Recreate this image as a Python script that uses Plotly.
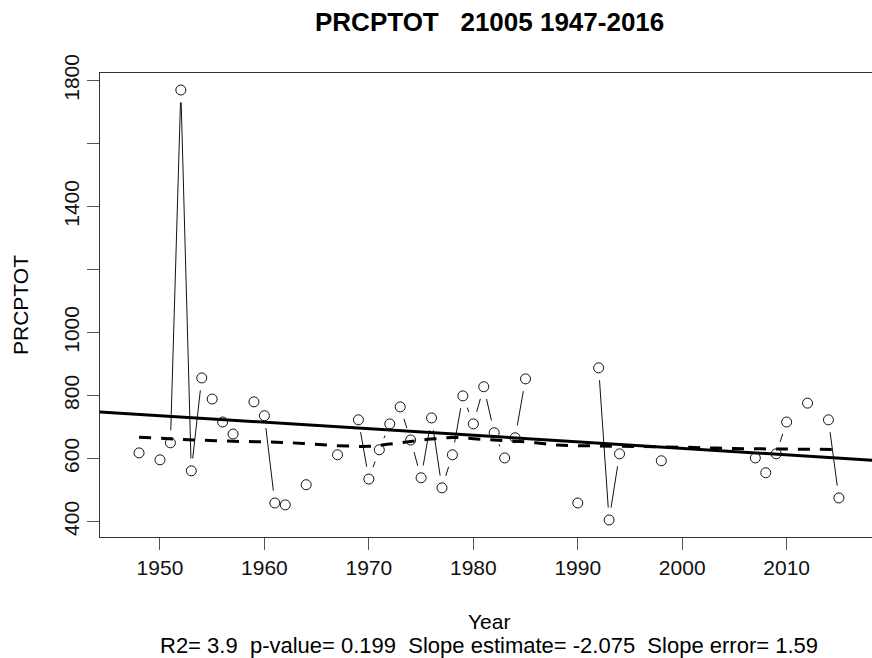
import math
import plotly.graph_objects as go

# ---------------- data ----------------
years = [1948, 1950, 1951, 1952, 1953, 1954, 1955, 1956, 1957, 1959, 1960, 1961, 1962,
         1964, 1967, 1969, 1970, 1971, 1972, 1973, 1974, 1975, 1976, 1977, 1978, 1979,
         1980, 1981, 1982, 1983, 1984, 1985, 1990, 1992, 1993, 1994, 1998, 2007, 2008,
         2009, 2010, 2012, 2014, 2015]
prcptot = [618, 596, 650, 1770, 561, 856, 789, 716, 678, 780, 736, 459, 453,
           517, 612, 723, 535, 628, 710, 764, 659, 539, 729, 507, 612, 799,
           710, 828, 682, 602, 666, 853, 459, 888, 405, 615, 593, 602, 555,
           615, 716, 776, 723, 475]

lowess_years = [1948, 1952, 1957, 1962, 1967, 1970, 1972, 1974, 1976, 1978, 1980, 1982,
                1984, 1986, 1988, 1990, 1994, 2000, 2005, 2010, 2015]
lowess_vals = [668, 661, 655, 651, 641, 639, 646, 654, 662, 667, 663, 659,
               655, 650, 643, 641, 639, 636, 632, 630, 629]

slope = -2.075
fit_year_ref = 1980
fit_value_ref = 674

xtick_vals = [1950, 1960, 1970, 1980, 1990, 2000, 2010]
ytick_vals = [400, 600, 800, 1000, 1200, 1400, 1600, 1800]
ytick_text = ["400", "600", "800", "1000", "", "1400", "", "1800"]

title_text = "PRCPTOT   21005 1947-2016"
xlabel = "Year"
ylabel = "PRCPTOT"
stats_text = "R2= 3.9  p-value= 0.199  Slope estimate= -2.075  Slope error= 1.59"

# ---------------- layout geometry ----------------
W, H = 872, 658
ML, MR, MT, MB = 100, 0, 73, 121
X_RANGE = [1944.26, 2018.17]
Y_RANGE = [351, 1824]
plot_w = W - ML - MR
plot_h = H - MT - MB
sx = plot_w / (X_RANGE[1] - X_RANGE[0])
sy = plot_h / (Y_RANGE[1] - Y_RANGE[0])
GAP = 12.5  # px gap around points (R type="b")

FONT = "Liberation Sans, Arial, sans-serif"

# connecting segments with gaps (consecutive years only)
seg_x, seg_y = [], []
for i in range(len(years) - 1):
    if years[i + 1] - years[i] != 1:
        continue
    dxp = (years[i + 1] - years[i]) * sx
    dyp = (prcptot[i + 1] - prcptot[i]) * sy
    L = math.hypot(dxp, dyp)
    if L <= 2 * GAP:
        continue
    f = GAP / L
    xa = years[i] + f * (years[i + 1] - years[i])
    ya = prcptot[i] + f * (prcptot[i + 1] - prcptot[i])
    xb = years[i + 1] - f * (years[i + 1] - years[i])
    yb = prcptot[i + 1] - f * (prcptot[i + 1] - prcptot[i])
    seg_x += [xa, xb, None]
    seg_y += [ya, yb, None]

fig = go.Figure()

fig.add_trace(go.Scatter(x=seg_x, y=seg_y, mode="lines",
                         line=dict(color="#111111", width=1), hoverinfo="skip",
                         showlegend=False))

fit_x = [X_RANGE[0] - 5, X_RANGE[1] + 5]
fit_y = [fit_value_ref + slope * (x - fit_year_ref) for x in fit_x]
fig.add_trace(go.Scatter(x=fit_x, y=fit_y, mode="lines",
                         line=dict(color="black", width=3), showlegend=False))

fig.add_trace(go.Scatter(x=lowess_years, y=lowess_vals, mode="lines",
                         line=dict(color="black", width=3, dash="12px,10px"),
                         line_shape="spline", showlegend=False))

fig.add_trace(go.Scatter(x=years, y=prcptot, mode="markers",
                         marker=dict(symbol="circle-open", size=10, color="#111111",
                                     line=dict(width=1, color="#111111")),
                         showlegend=False))

fig.update_layout(
    width=W, height=H, autosize=False,
    margin=dict(l=ML, r=MR, t=MT, b=MB, autoexpand=False),
    paper_bgcolor="white", plot_bgcolor="white",
    font=dict(family=FONT, size=21, color="black"),
    showlegend=False,
)

fig.update_xaxes(range=X_RANGE, tickvals=xtick_vals, ticks="outside", ticklen=12,
                 tickcolor="#555555", tickwidth=1, showline=True, linecolor="#333333",
                 linewidth=1, mirror=True, showgrid=False, zeroline=False,
                 automargin=False,
                 tickfont=dict(family=FONT, size=21, color="#111111"))
fig.update_yaxes(range=Y_RANGE, tickvals=ytick_vals, ticktext=ytick_text,
                 ticks="outside", ticklen=12, tickcolor="#555555", tickwidth=1,
                 showline=True, linecolor="#333333", linewidth=1, mirror=False,
                 showgrid=False, zeroline=False, tickangle=-90, automargin=False,
                 tickfont=dict(family=FONT, size=21, color="#111111"))

cx = (489 - ML) / plot_w
fig.add_annotation(text="<b>" + title_text + "</b>", xref="paper", yref="paper",
                   x=cx, y=1, yshift=51, xanchor="center", yanchor="middle",
                   showarrow=False, font=dict(family=FONT, size=26, color="black"))
fig.add_annotation(text=xlabel, xref="paper", yref="paper", x=cx, y=0, yshift=-84,
                   xanchor="center", yanchor="middle", showarrow=False,
                   font=dict(family=FONT, size=21, color="black"))
fig.add_annotation(text=stats_text, xref="paper", yref="paper", x=cx, y=0, yshift=-108,
                   xanchor="center", yanchor="middle", showarrow=False,
                   font=dict(family=FONT, size=22, color="black"))
fig.add_annotation(text=ylabel, xref="paper", yref="paper", x=0, y=0.5, xshift=-80,
                   xanchor="center", yanchor="middle", textangle=-90, showarrow=False,
                   font=dict(family=FONT, size=21, color="black"))

fig.write_html("out.html", config={"displayModeBar": False},
               post_script="document.body.style.margin='0';document.body.style.padding='0';")
